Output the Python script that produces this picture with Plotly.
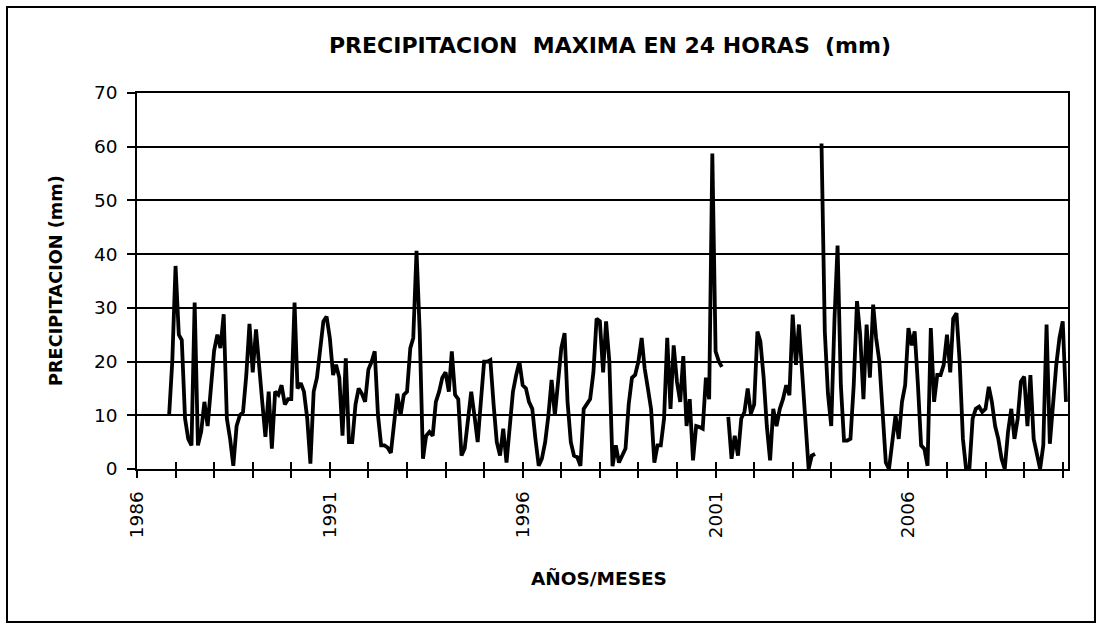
import pandas as pd
import plotly.graph_objects as go

# monthly maximum 24 h precipitation (mm), starting Nov 1986; None = missing month
start_month = "1986-11-01"
precip_mm = [
    10, 20,                                                        # 1986 (Nov-Dec)
    37.8, 25, 24, 9.4, 5.6, 4.4, 31, 4.4, 7, 12.5, 8, 15.6,        # 1987
    22, 25, 22.5, 28.8, 9.4, 5.6, 0.6, 8, 10, 10.6, 17.5, 27,      # 1988
    18, 26, 19, 12.5, 6, 14.4, 3.8, 14.4, 13.8, 15.6, 12, 13,      # 1989
    13, 31, 15, 16, 14.4, 9.4, 1, 14.4, 17, 23, 27.5, 28.4,        # 1990
    24.4, 17.5, 19.4, 17, 6.2, 20.6, 5, 5, 12, 15, 14, 12.5,       # 1991
    18.5, 20, 21.9, 10, 4.4, 4.4, 4, 3, 9.4, 14, 10, 13.8,         # 1992
    14.4, 22.5, 24.4, 40.6, 25.6, 1.9, 6.2, 6.9, 6.2, 12.5, 14.4, 17,  # 1993
    18, 14.4, 21.9, 13.8, 13, 2.5, 3.8, 10, 14.4, 10, 5, 12.5,     # 1994
    20, 20, 20.3, 12, 5, 2.5, 7.5, 1.2, 8, 14.4, 17.5, 20,         # 1995
    15.6, 15, 12.5, 11.2, 5.6, 0.6, 1.9, 5, 10, 16.6, 10, 17,      # 1996
    22.5, 25.3, 12.5, 5, 2.5, 2.2, 0.6, 11.2, 12.2, 13, 18, 28,    # 1997
    27.5, 18, 27.5, 20, 0.5, 4.4, 1.2, 2.5, 3.8, 12, 17, 17.5,     # 1998
    20, 24.4, 18.75, 15, 11.2, 1.2, 4.4, 4.4, 9.4, 24.4, 11.2, 23,  # 1999
    16.25, 12.5, 21, 8, 13, 1.6, 8, 7.8, 7.5, 17, 13, 58.75,       # 2000
    21.9, 20, 19, None, 9.7, 1.9, 6.2, 2.5, 9.4, 10.6, 15, 10.3,   # 2001
    12, 25.6, 23.75, 17, 8, 1.6, 11.2, 8, 11.2, 13, 15.6, 13.75,   # 2002
    28.75, 19.4, 26.9, 17.5, 7.5, 0, 2.5, 2.8, None, 60.6, 25.6, 14,  # 2003
    8, 28, 41.6, 15.6, 5.3, 5.3, 5.6, 15.6, 31.25, 25, 13, 26.9,   # 2004
    17, 30.6, 24.4, 20, 9.4, 1.2, 0, 5, 10, 5.6, 12.5, 15.6,       # 2005
    26.25, 23, 25.6, 15.6, 4.4, 3.75, 0.6, 26.25, 12.5, 17.5, 17.5, 19.4,  # 2006
    25, 18, 28, 29, 20, 5.6, 0, 0, 9.4, 11.2, 11.6, 10.6,          # 2007
    11.2, 15.3, 12.5, 8, 5.6, 1.9, 0, 6.9, 11.2, 5.6, 9.4, 16.25,  # 2008
    17.2, 8, 17.5, 5.6, 2.5, 0, 4.4, 26.9, 4.7, 12, 19.4, 24.4,    # 2009
    27.5, 12.5,                                                    # 2010 (Jan-Feb)
]
label_years = [1986, 1991, 1996, 2001, 2006]
y_ticks = [0, 10, 20, 30, 40, 50, 60, 70]

FONT = "'DejaVu Sans', Verdana, sans-serif"
NBSP = "\u00a0"  # keeps tick labels a little further from the axis

months = pd.date_range(start_month, periods=len(precip_mm), freq="MS")
year_ticks = [f"{y}-01-01" for y in range(1986, 2011)]
year_text = [str(y) + NBSP if y in label_years else "" for y in range(1986, 2011)]
y_text = [f"{v}{NBSP}" for v in y_ticks]

# plot area in page pixels: x 137..1068, y 93..469
L, R, T, B = 137, 1068, 93, 469
W, H = 1099, 625


def px(x):
    return (x - L) / (R - L)


def py(y):
    return (B - y) / (B - T)


fig = go.Figure()
fig.add_trace(
    go.Scatter(
        x=months,
        y=precip_mm,
        mode="lines",
        line=dict(color="black", width=3.8),
        connectgaps=False,
        showlegend=False,
    )
)
# empty trace so the overlay axis (inner half of the crossing ticks) is drawn
fig.add_trace(go.Scatter(x=[], y=[], xaxis="x2", showlegend=False))

x_range = ["1986-01-01", "2010-02-20"]
fig.update_layout(
    width=W,
    height=H,
    paper_bgcolor="white",
    plot_bgcolor="white",
    font=dict(family=FONT, color="black", size=18),
    margin=dict(l=L, r=W - R, t=T, b=H - B, pad=0),
    title=dict(
        text="<b>PRECIPITACION  MAXIMA EN 24 HORAS  (mm)</b>",
        x=px(610),
        xref="paper",
        xanchor="center",
        y=1 - 45 / H,
        yref="container",
        yanchor="middle",
        font=dict(family=FONT, size=22, color="black"),
    ),
    xaxis=dict(
        type="date",
        range=x_range,
        tickmode="array",
        tickvals=year_ticks,
        ticktext=year_text,
        tickangle=-90,
        ticks="outside",
        ticklen=7,
        tickwidth=2,
        tickcolor="black",
        showgrid=False,
        showline=True,
        linecolor="black",
        linewidth=2,
        mirror=True,
        tickfont=dict(size=18.5),
    ),
    xaxis2=dict(
        type="date",
        overlaying="x",
        matches="x",
        anchor="y",
        side="bottom",
        tickmode="array",
        tickvals=year_ticks,
        ticks="inside",
        ticklen=7,
        tickwidth=2,
        tickcolor="black",
        showticklabels=False,
        showgrid=False,
        showline=False,
    ),
    yaxis=dict(
        range=[0, 70],
        tickmode="array",
        tickvals=y_ticks,
        ticktext=y_text,
        ticks="outside",
        ticklen=8,
        tickwidth=2,
        tickcolor="black",
        showgrid=True,
        gridcolor="black",
        gridwidth=1.5,
        showline=True,
        linecolor="black",
        linewidth=2,
        mirror=True,
        zeroline=False,
        tickfont=dict(size=18.5),
    ),
)

fig.add_annotation(
    text="<b>AÑOS/MESES</b>",
    xref="paper", yref="paper",
    x=px(599), y=py(578),
    xanchor="center", yanchor="middle",
    showarrow=False,
    font=dict(family=FONT, size=18.5),
)
fig.add_annotation(
    text="<b>PRECIPITACION (mm)</b>",
    xref="paper", yref="paper",
    x=px(56), y=py(281),
    xanchor="center", yanchor="middle",
    textangle=-90,
    showarrow=False,
    font=dict(family=FONT, size=17.7),
)

# outer chart frame
fig.add_shape(
    type="rect",
    xref="paper", yref="paper",
    x0=px(7), x1=px(1095),
    y0=py(622), y1=py(7),
    line=dict(color="black", width=2),
)

fig.write_html(
    "out.html",
    config={"displayModeBar": False},
    post_script="document.body.style.margin='0';document.body.style.overflow='hidden';",
)
